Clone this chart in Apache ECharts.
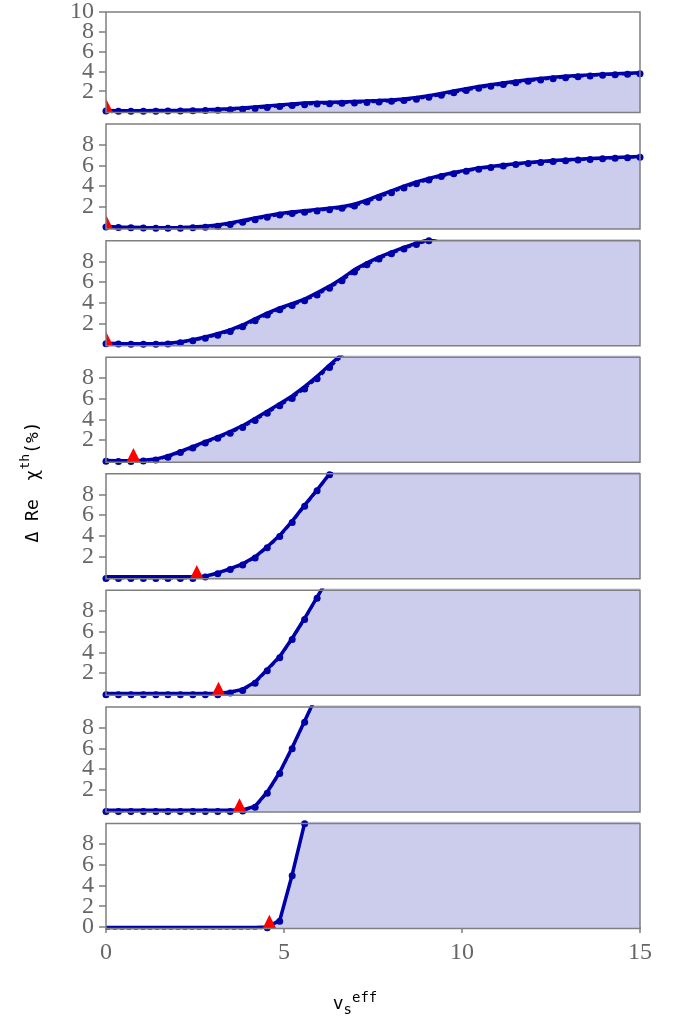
<!DOCTYPE html>
<html>
<head>
<meta charset="utf-8">
<script src="https://cdn.jsdelivr.net/npm/echarts@6/dist/echarts.min.js"></script>
<style>
  html, body { margin: 0; padding: 0; background: #fff; }
  #chart { width: 689px; height: 1020px; }
</style>
</head>
<body>
<div id="chart"></div>
<script>
// x grid shared by every panel
const vs = [0, 0.35, 0.70, 1.05, 1.40, 1.74, 2.09, 2.44, 2.79, 3.14, 3.49, 3.84, 4.19, 4.53, 4.88,
  5.23, 5.58, 5.93, 6.28, 6.63, 6.98, 7.33, 7.67, 8.02, 8.37, 8.72, 9.07, 9.42, 9.77, 10.12,
  10.47, 10.81, 11.16, 11.51, 11.86, 12.21, 12.56, 12.91, 13.26, 13.60, 13.95, 14.30, 14.65, 15.00];

// solid curve (with fill) per panel
const line1 = [0.05, 0.03, 0.03, 0.03, 0.04, 0.05, 0.07, 0.1, 0.13, 0.18, 0.24, 0.31, 0.4, 0.5, 0.62,
  0.72, 0.8, 0.85, 0.88, 0.92, 0.96, 1.0, 1.05, 1.12, 1.22, 1.36, 1.55, 1.78, 2.02, 2.25,
  2.47, 2.66, 2.84, 3.0, 3.16, 3.29, 3.4, 3.5, 3.58, 3.65, 3.71, 3.77, 3.82, 3.86];
const line2 = [0.1, 0.06, 0.03, 0.0, -0.02, -0.02, 0.0, 0.04, 0.12, 0.25, 0.45, 0.68, 0.92, 1.15, 1.35,
  1.5, 1.62, 1.74, 1.86, 2.0, 2.25, 2.65, 3.1, 3.55, 4.0, 4.4, 4.75, 5.05, 5.32, 5.55,
  5.75, 5.9, 6.05, 6.17, 6.28, 6.38, 6.47, 6.54, 6.6, 6.66, 6.72, 6.77, 6.82, 6.86];
const line3 = [0.08, 0.05, 0.03, 0.03, 0.04, 0.08, 0.2, 0.42, 0.68, 1.0, 1.38, 1.85, 2.45, 3.0, 3.5,
  3.9, 4.35, 4.95, 5.6, 6.35, 7.2, 7.85, 8.4, 8.9, 9.35, 9.75, 10.1, 10.45, 10.8, 11.1,
  11.4, 11.7, 12.0, 12.2, 12.4, 12.6, 12.8, 13.0, 13.1, 13.2, 13.3, 13.4, 13.5, 13.6];
const line4 = [0.02, 0.0, 0.0, 0.03, 0.15, 0.45, 0.9, 1.35, 1.85, 2.3, 2.82, 3.38, 4.08, 4.78, 5.5,
  6.25, 7.15, 8.15, 9.25, 10.3, 11.3, 12.2, 13.0, 13.7, 14.3, 14.8, 15.2, 15.6, 15.9, 16.2,
  16.4, 16.6, 16.8, 17.0, 17.1, 17.2, 17.3, 17.4, 17.5, 17.6, 17.6, 17.7, 17.7, 17.8];
const line5 = [0.05, 0.05, 0.05, 0.05, 0.05, 0.05, 0.05, 0.05, 0.1, 0.42, 0.84, 1.3, 1.98, 2.95, 4.05,
  5.42, 6.97, 8.45, 10.0, 11.5, 13.0, 14.3, 15.4, 16.3, 17.0, 17.6, 18.1, 18.5, 18.8, 19.1,
  19.3, 19.5, 19.6, 19.7, 19.8, 19.9, 20.0, 20.0, 20.1, 20.1, 20.2, 20.2, 20.2, 20.3];
const line6 = [0.02, 0.02, 0.02, 0.02, 0.02, 0.02, 0.02, 0.02, 0.02, 0.02, 0.17, 0.43, 1.15, 2.36, 3.6,
  5.37, 7.3, 9.35, 11.4, 13.3, 15.0, 16.5, 17.8, 18.9, 19.8, 20.5, 21.1, 21.6, 22.0, 22.3,
  22.6, 22.8, 23.0, 23.1, 23.2, 23.3, 23.4, 23.5, 23.5, 23.6, 23.6, 23.7, 23.7, 23.7];
const line7 = [0.0, 0.0, 0.0, 0.0, 0.0, 0.0, 0.0, 0.0, 0.0, 0.0, 0.0, 0.05, 0.4, 1.78, 3.68,
  6.08, 8.65, 11.2, 13.6, 15.8, 17.7, 19.3, 20.6, 21.7, 22.6, 23.3, 23.9, 24.4, 24.8, 25.1,
  25.4, 25.6, 25.8, 25.9, 26.0, 26.1, 26.2, 26.3, 26.3, 26.4, 26.4, 26.5, 26.5, 26.5];
const line8 = [-0.05, -0.05, -0.05, -0.05, -0.05, -0.05, -0.05, -0.05, -0.05, -0.05, -0.05, -0.05, -0.05, 0.0, 0.63,
  5.05, 10.05, 15.0, 19.5, 23.5, 27.0, 30.0, 32.5, 34.5, 36.0, 37.2, 38.2, 39.0, 39.6, 40.1,
  40.5, 40.8, 41.0, 41.2, 41.4, 41.5, 41.6, 41.7, 41.8, 41.8, 41.9, 41.9, 42.0, 42.0];

// dashed series with dot markers per panel (ends once it leaves the top)
const dots1 = [0.0, -0.02, -0.02, -0.02, -0.02, -0.01, 0.0, 0.02, 0.04, 0.07, 0.12, 0.18, 0.26, 0.35, 0.46,
  0.56, 0.64, 0.7, 0.74, 0.78, 0.82, 0.86, 0.91, 0.98, 1.07, 1.2, 1.38, 1.6, 1.84, 2.08,
  2.3, 2.5, 2.68, 2.85, 3.0, 3.14, 3.26, 3.37, 3.46, 3.54, 3.61, 3.67, 3.72, 3.77];
const dots2 = [0.05, 0.0, -0.03, -0.05, -0.07, -0.07, -0.06, -0.03, 0.03, 0.13, 0.3, 0.52, 0.76, 1.0, 1.2,
  1.36, 1.48, 1.6, 1.72, 1.86, 2.08, 2.46, 2.9, 3.36, 3.82, 4.24, 4.6, 4.92, 5.2, 5.44,
  5.64, 5.8, 5.95, 6.08, 6.19, 6.29, 6.38, 6.46, 6.52, 6.58, 6.64, 6.7, 6.75, 6.8];
const dots3 = [0.03, 0.0, -0.02, -0.02, -0.01, 0.02, 0.12, 0.32, 0.56, 0.86, 1.22, 1.68, 2.26, 2.82, 3.32,
  3.74, 4.18, 4.75, 5.4, 6.12, 6.98, 7.66, 8.22, 8.74, 9.2, 9.62, 9.98, 10.33, 10.68];
const dots4 = [-0.05, -0.07, -0.07, -0.04, 0.06, 0.34, 0.78, 1.22, 1.7, 2.16, 2.66, 3.2, 3.88, 4.58, 5.3,
  6.02, 6.92, 7.92, 9.0, 10.05, 11.1];
const dots5 = [-0.12, -0.12, -0.12, -0.12, -0.12, -0.12, -0.12, -0.12, 0.02, 0.34, 0.74, 1.18, 1.86, 2.84, 3.94,
  5.3, 6.85, 8.35, 9.9, 11.4];
const dots6 = [-0.1, -0.1, -0.1, -0.1, -0.1, -0.1, -0.1, -0.1, -0.1, -0.1, 0.08, 0.33, 1.03, 2.24, 3.48,
  5.25, 7.18, 9.23, 11.3];
const dots7 = [-0.12, -0.12, -0.12, -0.12, -0.12, -0.12, -0.12, -0.12, -0.12, -0.12, -0.12, -0.05, 0.3, 1.66, 3.56,
  5.96, 8.53, 11.1];
const dots8 = [-0.2, -0.2, -0.2, -0.2, -0.2, -0.2, -0.2, -0.2, -0.2, -0.2, -0.2, -0.2, -0.2, -0.08, 0.55,
  4.95, 9.98, 14.9];

// red triangle per panel
const markerX = [0, 0, 0, 0.77, 2.55, 3.16, 3.75, 4.59];
const markerY = [0.45, 0.45, 0.45, 0.45, 0.4, 0.4, 0.4, 0.4];

// tick labels
const yTicksTop = [2, 4, 6, 8, 10];
const yTicksMid = [2, 4, 6, 8];
const yTicksBottom = [0, 2, 4, 6, 8];
const yTopOnly = [10];
const xTicks = [0, 5, 10, 15];

const lines = [line1, line2, line3, line4, line5, line6, line7, line8];
const dots = [dots1, dots2, dots3, dots4, dots5, dots6, dots7, dots8];

const BLUE = "#0000a8";
const FILL = "#ccccec";
const GRAY = "#7f7f7f";
const LABEL = "#666666";
const SERIF = "Liberation Serif";
const MONO = "DejaVu Sans Mono";

const chart = echarts.init(document.getElementById("chart"), null, { renderer: "canvas" });

const grids = [];
const xAxes = [];
const yAxes = [];
const series = [];

const panelTop = 7.5;
const panelStep = 116.57;
const panelHeight = 105;

// y axis whose labels come from its own nice ticks (step 2); the formatter keeps the listed ones
const makeYAxis = (gridIndex, tickList, labelList) => ({
  type: "value",
  gridIndex: gridIndex,
  min: -0.15,
  max: 10,
  splitNumber: 5,
  axisLine: { show: false },
  splitLine: { show: false },
  axisTick: {
    show: true,
    length: 7,
    customValues: tickList,
    lineStyle: { color: GRAY, width: 1.5 },
  },
  axisLabel: {
    showMinLabel: true,
    showMaxLabel: true,
    hideOverlap: false,
    formatter: (v) => (labelList.indexOf(Math.round(v * 100) / 100) >= 0 ? String(v) : ""),
    color: LABEL,
    fontFamily: SERIF,
    fontSize: 24,
    margin: 12,
  },
});

lines.forEach((vals, k) => {
  const last = k === lines.length - 1;
  grids.push({
    left: 106,
    width: 534,
    top: panelTop + k * panelStep,
    height: panelHeight,
    show: true,
    borderColor: GRAY,
    borderWidth: 1.5,
    backgroundColor: "transparent",
    z: 10,
  });

  xAxes.push({
    type: "value",
    gridIndex: k,
    min: 0,
    max: 15,
    interval: 5,
    show: last,
    axisLine: { show: false },
    splitLine: { show: false },
    axisTick: {
      show: last,
      length: 6,
      lineStyle: { color: GRAY, width: 1.5 },
    },
    axisLabel: {
      show: last,
      showMinLabel: true,
      showMaxLabel: true,
      color: LABEL,
      fontFamily: SERIF,
      fontSize: 24,
      margin: 12,
    },
  });

  const ticks = k === 0 ? yTicksTop : last ? yTicksBottom : yTicksMid;
  // top panel: the "10" goes on its own axis so the packed "8" is not dropped
  const labels = k === 0 ? yTicksMid : ticks;
  yAxes.push(makeYAxis(k, ticks, labels));

  series.push({
    type: "line",
    xAxisIndex: k,
    yAxisIndex: k,
    data: vals.map((v, i) => [vs[i], v]),
    showSymbol: false,
    clip: true,
    lineStyle: { color: BLUE, width: 3.5 },
    areaStyle: { color: FILL, opacity: 1, origin: "start" },
    z: 2,
  });

  series.push({
    type: "line",
    xAxisIndex: k,
    yAxisIndex: k,
    data: dots[k].map((v, i) => [vs[i], v]),
    symbol: "circle",
    symbolSize: 7,
    showSymbol: true,
    clip: true,
    itemStyle: { color: BLUE },
    lineStyle: { color: BLUE, width: 2, type: [4, 3] },
    z: 3,
  });

  series.push({
    type: "custom",
    xAxisIndex: k,
    yAxisIndex: k,
    clip: true,
    z: 4,
    data: [[markerX[k], markerY[k]]],
    renderItem: (params, api) => {
      const p = api.coord([api.value(0), api.value(1)]);
      const s = 8;
      return {
        type: "polygon",
        shape: {
          points: [
            [p[0], p[1] - s],
            [p[0] + s, p[1] + s],
            [p[0] - s, p[1] + s],
          ],
        },
        style: { fill: "#ff0000" },
      };
    },
  });
});

// extra axis on the top panel that only carries the "10" label
const topExtra = makeYAxis(0, yTopOnly, yTopOnly);
topExtra.position = "left";
topExtra.offset = 0;
yAxes.push(topExtra);

const option = {
  animation: false,
  backgroundColor: "#fff",
  grid: grids,
  xAxis: xAxes,
  yAxis: yAxes,
  series: series,
  graphic: [
    {
      type: "text",
      x: 33,
      y: 482,
      rotation: Math.PI / 2,
      style: {
        text: "{m|Δ Re }{c|χ}{s|th}{m|(%)}",
        align: "center",
        verticalAlign: "middle",
        rich: {
          m: { fontFamily: MONO, fontSize: 18, fill: "#000", lineHeight: 28, verticalAlign: "middle" },
          c: { fontFamily: MONO, fontSize: 18, fill: "#000", lineHeight: 28, verticalAlign: "middle", padding: [0, 0, 0, 8] },
          s: { fontFamily: MONO, fontSize: 13, fill: "#000", lineHeight: 28, verticalAlign: "top" },
        },
      },
    },
    {
      type: "text",
      x: 355,
      y: 1004,
      style: {
        text: "{m|v}{b|s}{s|eff}",
        align: "center",
        verticalAlign: "middle",
        rich: {
          m: { fontFamily: MONO, fontSize: 18, fill: "#000", lineHeight: 26, verticalAlign: "middle" },
          b: { fontFamily: MONO, fontSize: 14, fill: "#000", lineHeight: 26, verticalAlign: "bottom" },
          s: { fontFamily: MONO, fontSize: 14, fill: "#000", lineHeight: 26, verticalAlign: "top" },
        },
      },
    },
  ],
};

chart.setOption(option);
</script>
</body>
</html>
